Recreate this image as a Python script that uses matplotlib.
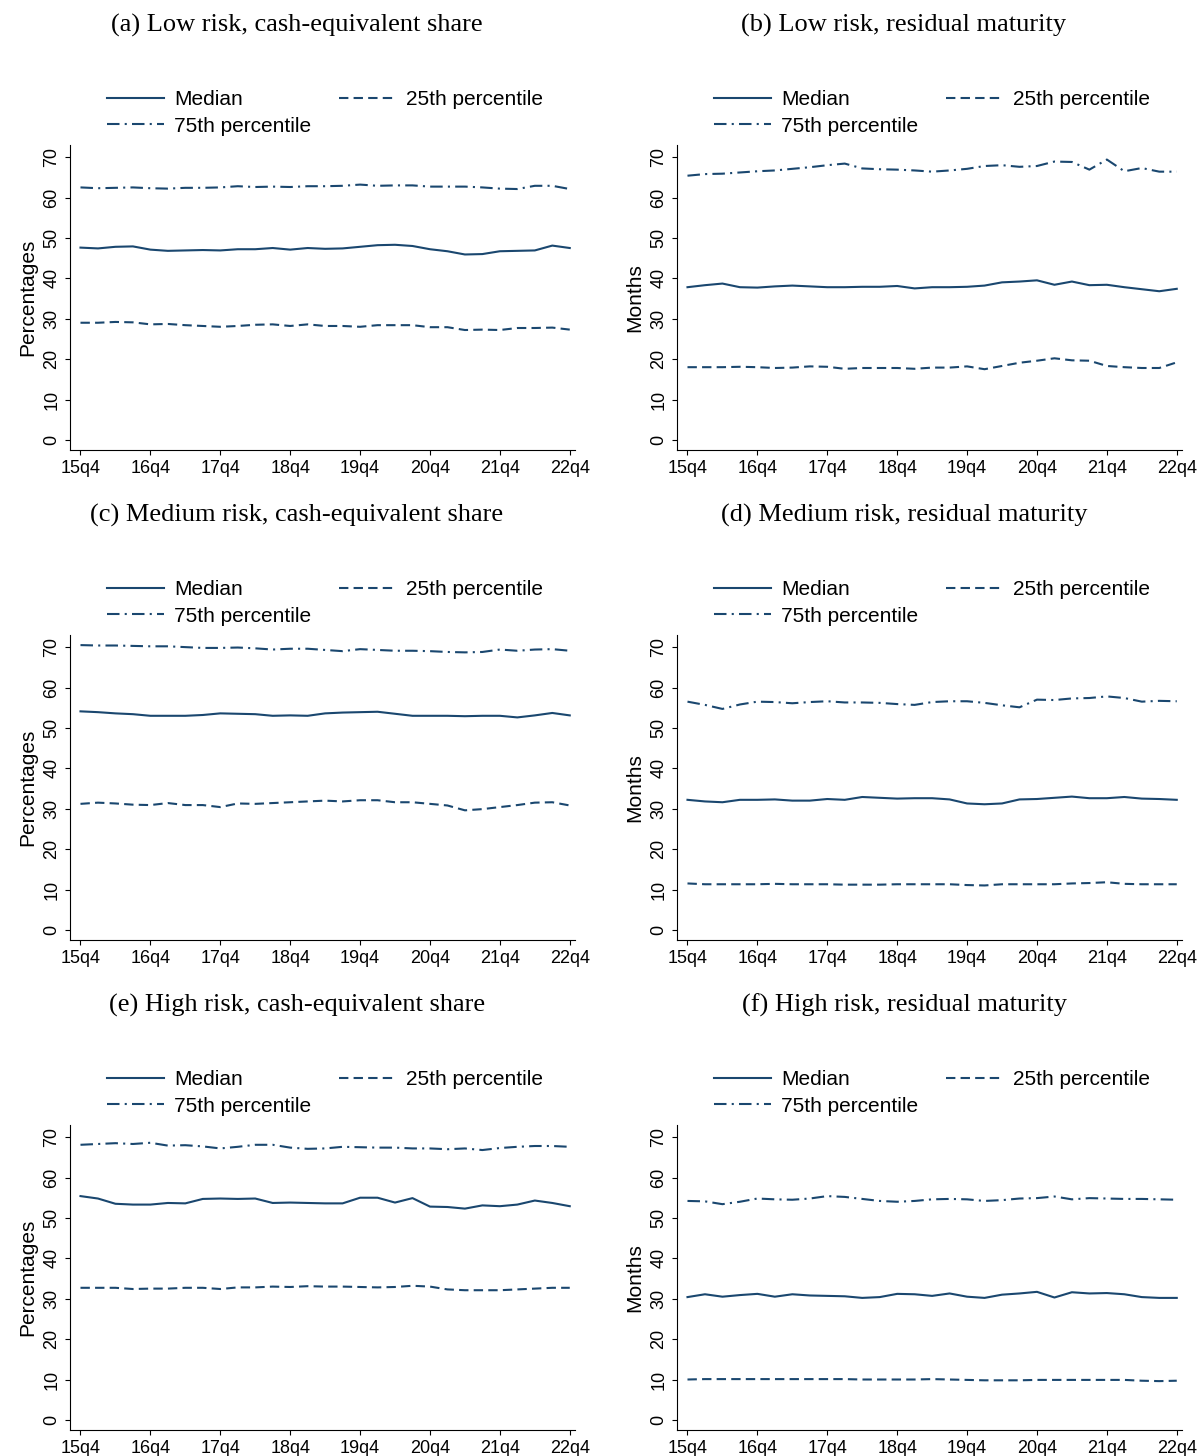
import numpy as np
import matplotlib
matplotlib.use("Agg")
import matplotlib.pyplot as plt

plt.rcParams["font.family"] = ["Liberation Sans", "DejaVu Sans"]
NAVY = "#1a476f"

QUARTERS = ["15q4", "16q1", "16q2", "16q3", "16q4", "17q1", "17q2", "17q3", "17q4",
            "18q1", "18q2", "18q3", "18q4", "19q1", "19q2", "19q3", "19q4",
            "20q1", "20q2", "20q3", "20q4", "21q1", "21q2", "21q3", "21q4",
            "22q1", "22q2", "22q3", "22q4"]
TICKS = ["15q4", "16q4", "17q4", "18q4", "19q4", "20q4", "21q4", "22q4"]

TITLES = ["(a) Low risk, cash-equivalent share", "(b) Low risk, residual maturity",
          "(c) Medium risk, cash-equivalent share", "(d) Medium risk, residual maturity",
          "(e) High risk, cash-equivalent share", "(f) High risk, residual maturity"]
YLABELS = ["Percentages", "Months"] * 3

MEDIAN = [
    [47.6, 47.4, 47.8, 47.9, 47.1, 46.8, 46.9, 47.0, 46.9, 47.2, 47.2, 47.5, 47.1, 47.5, 47.3,
     47.4, 47.8, 48.2, 48.3, 48.0, 47.2, 46.7, 45.9, 46.0, 46.7, 46.8, 46.9, 48.1, 47.5],
    [37.8, 38.3, 38.7, 37.8, 37.7, 38.0, 38.2, 38.0, 37.8, 37.8, 37.9, 37.9, 38.1, 37.5, 37.8,
     37.8, 37.9, 38.2, 39.0, 39.2, 39.5, 38.4, 39.2, 38.3, 38.4, 37.8, 37.3, 36.8, 37.4],
    [54.1, 53.9, 53.6, 53.4, 53.0, 53.0, 53.0, 53.2, 53.6, 53.5, 53.4, 53.0, 53.1, 53.0, 53.6,
     53.8, 53.9, 54.0, 53.5, 53.0, 53.0, 53.0, 52.9, 53.0, 53.0, 52.6, 53.1, 53.7, 53.1],
    [32.2, 31.8, 31.6, 32.2, 32.2, 32.3, 32.0, 32.0, 32.4, 32.2, 32.9, 32.7, 32.5, 32.6, 32.6,
     32.3, 31.3, 31.1, 31.3, 32.3, 32.4, 32.7, 33.0, 32.6, 32.6, 32.9, 32.5, 32.4, 32.2],
    [55.4, 54.8, 53.5, 53.3, 53.3, 53.7, 53.6, 54.7, 54.8, 54.7, 54.8, 53.7, 53.8, 53.7, 53.6,
     53.6, 55.0, 55.0, 53.8, 54.9, 52.8, 52.7, 52.3, 53.1, 52.9, 53.3, 54.3, 53.7, 52.9],
    [30.4, 31.1, 30.5, 30.9, 31.2, 30.5, 31.1, 30.8, 30.7, 30.6, 30.2, 30.4, 31.2, 31.1, 30.7,
     31.3, 30.5, 30.2, 31.0, 31.3, 31.7, 30.3, 31.6, 31.3, 31.4, 31.1, 30.4, 30.2, 30.2],
]
P25 = [
    [29.0, 29.0, 29.2, 29.1, 28.6, 28.7, 28.4, 28.2, 28.0, 28.2, 28.5, 28.6, 28.2, 28.6, 28.2,
     28.2, 28.0, 28.4, 28.4, 28.4, 27.9, 27.9, 27.2, 27.3, 27.2, 27.7, 27.7, 27.8, 27.3],
    [18.0, 18.0, 18.0, 18.1, 18.0, 17.8, 17.9, 18.2, 18.1, 17.6, 17.8, 17.8, 17.8, 17.6, 17.9,
     17.9, 18.2, 17.5, 18.3, 19.1, 19.6, 20.2, 19.7, 19.6, 18.3, 18.0, 17.8, 17.8, 19.2],
    [31.2, 31.5, 31.3, 31.0, 30.9, 31.4, 30.9, 30.9, 30.4, 31.3, 31.2, 31.4, 31.6, 31.8, 32.0,
     31.8, 32.1, 32.1, 31.6, 31.6, 31.2, 30.8, 29.6, 29.9, 30.4, 30.9, 31.5, 31.6, 30.8],
    [11.5, 11.3, 11.3, 11.3, 11.3, 11.4, 11.3, 11.3, 11.3, 11.2, 11.2, 11.2, 11.3, 11.3, 11.3,
     11.3, 11.1, 11.0, 11.3, 11.3, 11.3, 11.3, 11.5, 11.6, 11.8, 11.4, 11.3, 11.3, 11.3],
    [32.7, 32.7, 32.7, 32.4, 32.5, 32.5, 32.7, 32.7, 32.4, 32.8, 32.8, 33.0, 32.9, 33.1, 33.0,
     33.0, 32.9, 32.8, 32.9, 33.2, 33.0, 32.3, 32.1, 32.1, 32.1, 32.3, 32.5, 32.7, 32.7],
    [10.0, 10.1, 10.1, 10.1, 10.1, 10.1, 10.1, 10.1, 10.1, 10.1, 10.0, 10.0, 10.0, 10.0, 10.1,
     10.0, 9.9, 9.8, 9.8, 9.8, 9.9, 9.9, 9.9, 9.9, 9.9, 9.9, 9.7, 9.6, 9.7],
]
P75 = [
    [62.5, 62.3, 62.4, 62.5, 62.3, 62.2, 62.4, 62.4, 62.5, 62.8, 62.6, 62.7, 62.6, 62.8, 62.8,
     62.9, 63.2, 62.9, 63.0, 63.0, 62.7, 62.7, 62.7, 62.5, 62.2, 62.1, 62.9, 62.9, 62.1],
    [65.4, 65.8, 65.9, 66.2, 66.5, 66.7, 67.1, 67.5, 68.0, 68.4, 67.2, 67.0, 66.9, 66.7, 66.4,
     66.7, 67.1, 67.8, 68.0, 67.6, 67.8, 68.9, 68.8, 66.9, 69.4, 66.5, 67.3, 66.4, 66.4],
    [70.5, 70.4, 70.4, 70.3, 70.2, 70.2, 70.0, 69.8, 69.8, 69.9, 69.7, 69.4, 69.6, 69.6, 69.3,
     69.0, 69.5, 69.3, 69.1, 69.1, 69.0, 68.8, 68.7, 68.8, 69.4, 69.1, 69.4, 69.5, 69.1],
    [56.5, 55.7, 54.7, 55.8, 56.5, 56.4, 56.1, 56.4, 56.6, 56.3, 56.3, 56.2, 55.9, 55.7, 56.4,
     56.6, 56.6, 56.2, 55.6, 55.1, 57.0, 56.9, 57.3, 57.4, 57.8, 57.4, 56.5, 56.7, 56.6],
    [68.1, 68.3, 68.5, 68.3, 68.6, 67.9, 68.0, 67.7, 67.2, 67.6, 68.1, 68.1, 67.4, 67.1, 67.2,
     67.6, 67.5, 67.4, 67.4, 67.2, 67.2, 67.0, 67.2, 66.8, 67.3, 67.6, 67.8, 67.8, 67.6],
    [54.2, 54.1, 53.4, 54.0, 54.8, 54.6, 54.5, 54.8, 55.4, 55.2, 54.7, 54.2, 54.0, 54.2, 54.6,
     54.7, 54.6, 54.2, 54.4, 54.8, 54.9, 55.3, 54.6, 54.9, 54.8, 54.7, 54.7, 54.6, 54.5],
]

fig = plt.figure(figsize=(12.02, 14.56), dpi=100)
W, H = 1202, 1456
x = np.arange(len(QUARTERS))
tick_pos = [QUARTERS.index(t) for t in TICKS]

for i in range(6):
    row, col = divmod(i, 2)
    left = 70 if col == 0 else 677
    top = 145 + row * 490
    ax = fig.add_axes([left / W, 1 - (top + 305) / H, 505 / W, 305 / H])
    l1, = ax.plot(x, MEDIAN[i], color=NAVY, lw=1.5, ls="-")
    l2, = ax.plot(x, P25[i], color=NAVY, lw=1.5, ls=(0, (4.5, 2.5)))
    l3, = ax.plot(x, P75[i], color=NAVY, lw=1.5, ls=(0, (6, 2.5, 1, 2.5)))
    ax.set_xlim(-0.6, 28.3)
    ax.set_ylim(-2.5, 73)
    ax.set_yticks(range(0, 71, 10))
    ax.set_xticks(tick_pos)
    ax.set_xticklabels(TICKS, fontsize=13)
    ax.tick_params(axis="y", labelrotation=90, labelsize=13)
    for lab in ax.get_yticklabels():
        lab.set_va("center")
    ax.spines["top"].set_visible(False)
    ax.spines["right"].set_visible(False)
    ax.set_ylabel(YLABELS[i], fontsize=15)
    fig.text((left + 227) / W, 1 - (25 + row * 490) / H, TITLES[i], ha="center", va="center",
             fontsize=19, family="Liberation Serif")
    # column-wise fill: Median / 75th in col 1, 25th in col 2
    fig.legend([l1, l3, l2], ["Median", "75th percentile", "25th percentile"],
               loc="upper left", bbox_to_anchor=((left + 27) / W, 1 - (80 + row * 490) / H),
               ncol=2, frameon=False, fontsize=15, handlelength=2.7, handletextpad=0.5,
               columnspacing=1.35, labelspacing=0.35, borderpad=0)

fig.savefig("out.png", dpi=100)
